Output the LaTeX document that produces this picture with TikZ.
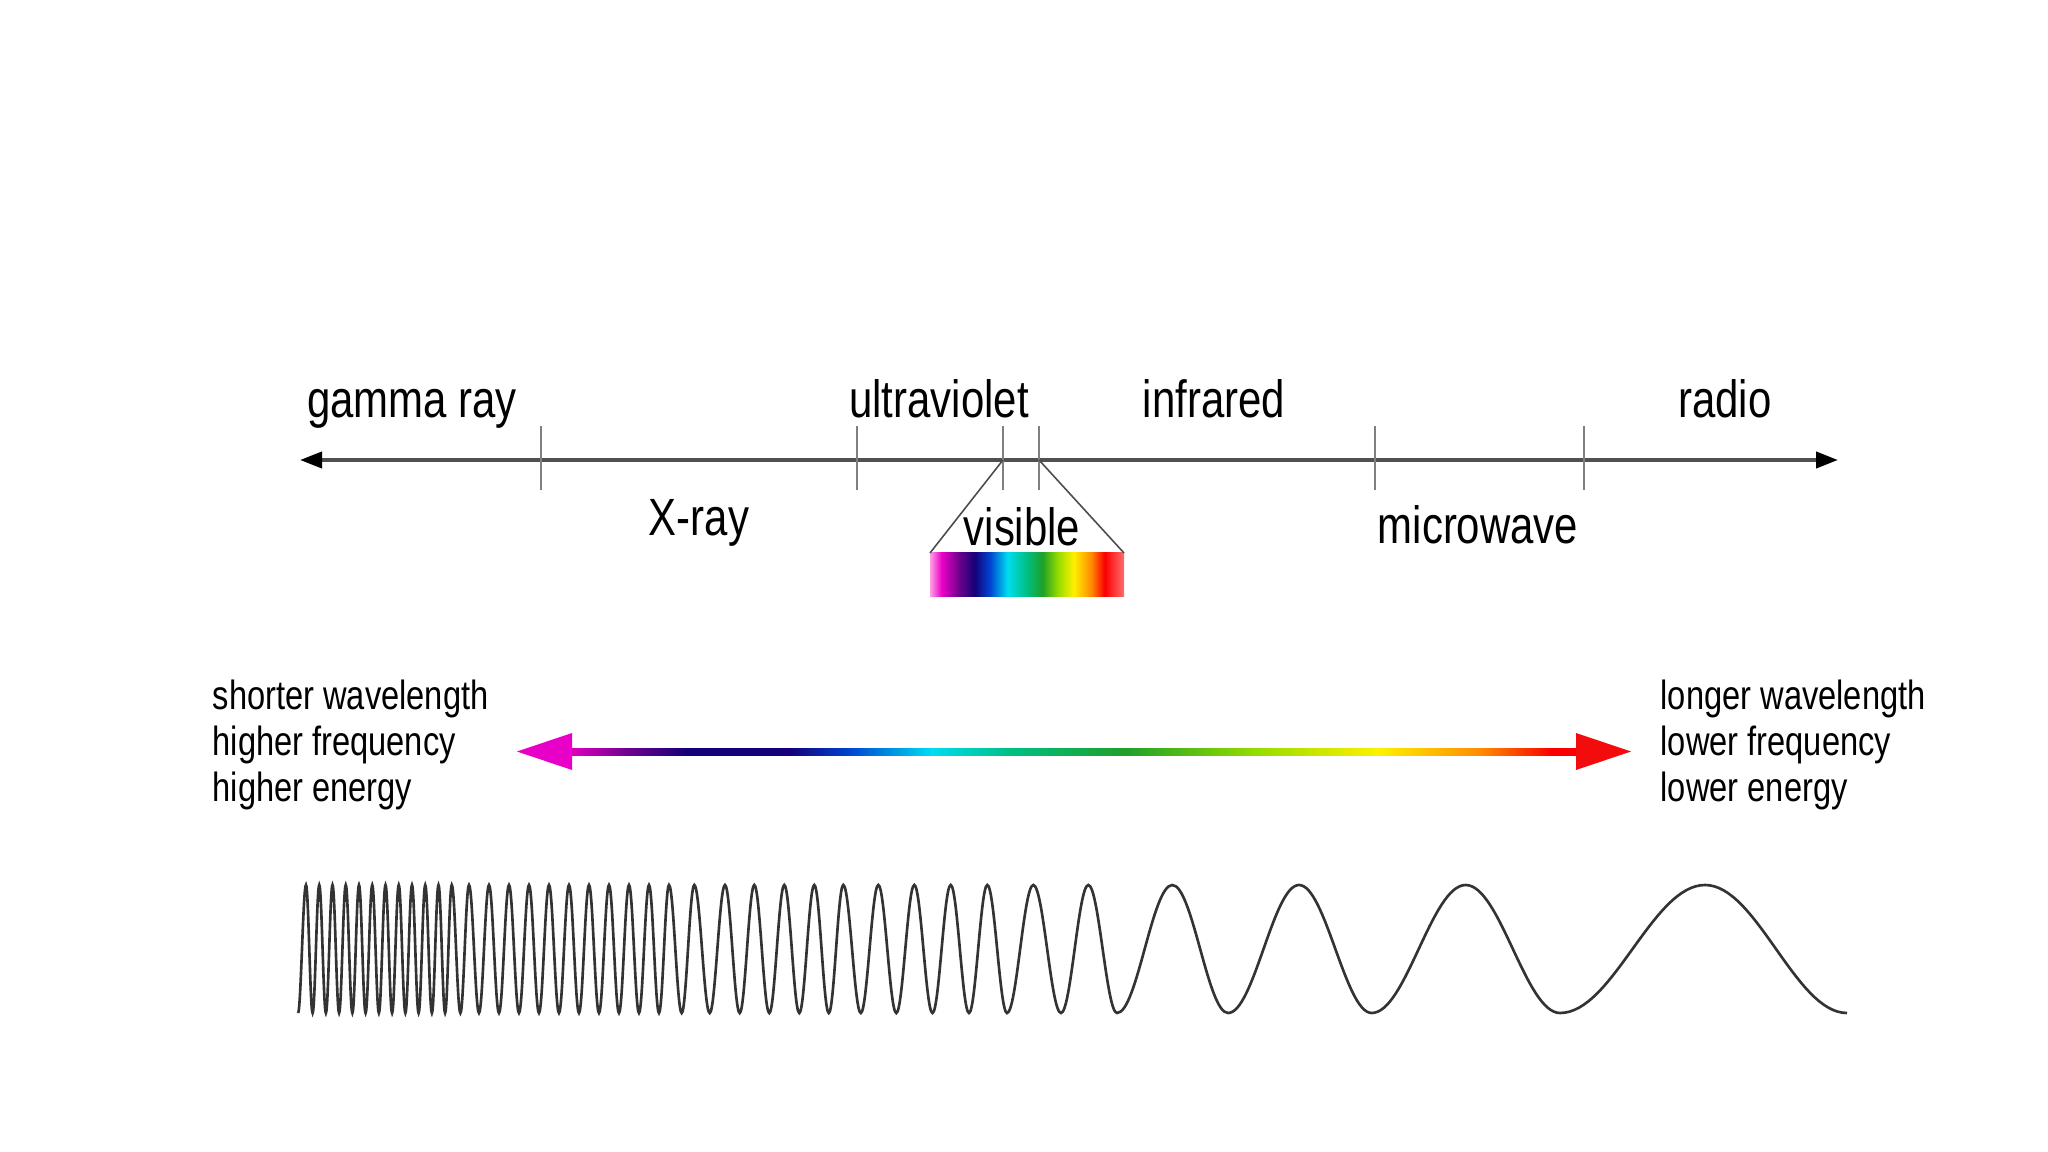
\documentclass[tikz,border=0pt]{standalone}
\usepackage{fontspec}
\setmainfont{Liberation Sans}[FakeStretch=0.8]
\usetikzlibrary{arrows.meta}

\definecolor{vpink}{RGB}{255,160,230}
\definecolor{vmag}{RGB}{235,0,200}
\definecolor{vpurp}{RGB}{110,0,140}
\definecolor{vnavy}{RGB}{20,0,120}
\definecolor{vblue}{RGB}{0,70,210}
\definecolor{vcyan}{RGB}{0,220,240}
\definecolor{vteal}{RGB}{0,190,130}
\definecolor{vgreen}{RGB}{30,160,40}
\definecolor{vlime}{RGB}{150,220,0}
\definecolor{vyell}{RGB}{255,240,0}
\definecolor{vorange}{RGB}{255,140,0}
\definecolor{vred}{RGB}{250,0,0}
\definecolor{vredge}{RGB}{255,110,110}
\definecolor{axisgray}{RGB}{80,80,80}
\definecolor{headmag}{RGB}{232,0,200}
\definecolor{headred}{RGB}{242,12,12}

% visible band, 25bp..75bp is the box
\pgfdeclarehorizontalshading{visspec}{100bp}{color(0bp)=(vpink); color(25bp)=(vpink);
 color(28bp)=(vmag); color(32.5bp)=(vpurp); color(36.5bp)=(vnavy); color(40.5bp)=(vblue);
 color(45bp)=(vcyan); color(50bp)=(vteal); color(54bp)=(vgreen); color(58bp)=(vlime);
 color(62bp)=(vyell); color(66.5bp)=(vorange); color(70bp)=(vred); color(75bp)=(vredge);
 color(100bp)=(vredge)}
% shaft of the lower arrow
\pgfdeclarehorizontalshading{shaftspec}{100bp}{color(0bp)=(vmag); color(25bp)=(vmag);
 color(28bp)=(vpurp); color(31bp)=(vnavy); color(36bp)=(vnavy); color(39bp)=(vblue);
 color(43bp)=(vcyan); color(47bp)=(vteal); color(52.5bp)=(vgreen); color(59bp)=(vlime);
 color(65bp)=(vyell); color(70bp)=(vorange); color(73.5bp)=(vred); color(75bp)=(vred);
 color(100bp)=(vred)}

\begin{document}
\begin{tikzpicture}[x=0.01cm,y=-0.01cm,
 band/.style={inner sep=0pt,anchor=base,font=\fontsize{14.9}{17}\selectfont},
 note/.style={inner sep=0pt,anchor=base west,font=\fontsize{11.6}{13}\selectfont},
 bandtick/.style={draw=gray,line width=0.45pt},
 fan/.style={draw=black!70,line width=0.45pt},
 wavepen/.style={draw=black!80,line width=0.75pt}]
\useasboundingbox (0,0) rectangle (2048,1152);

% spectrum axis
\coordinate (axL) at (300,460);
\coordinate (axR) at (1838,460);
\draw[axisgray,line width=1.1pt,{Triangle[length=2.2mm,width=1.6mm,black]}-{Triangle[length=2.2mm,width=1.6mm,black]}] (axL) -- (axR);
\coordinate (t1) at (541,460);
\coordinate (t2) at (857,460);
\coordinate (t3) at (1003,460);
\coordinate (t4) at (1039,460);
\coordinate (t5) at (1375,460);
\coordinate (t6) at (1584,460);
\draw[bandtick] (541,426) -- (541,490);
\draw[bandtick] (857,426) -- (857,490);
\draw[bandtick] (1003,426) -- (1003,490);
\draw[bandtick] (1039,426) -- (1039,490);
\draw[bandtick] (1375,426) -- (1375,490);
\draw[bandtick] (1584,426) -- (1584,490);

\node[band] (gamma) at (412,418) {gamma ray};
\node[band] (uv) at (939,418) {ultraviolet};
\node[band] (ir) at (1214,418) {infrared};
\node[band] (radio) at (1725,418) {radio};
\node[band] (xray) at (699,536) {X-ray};
\node[band] (vis) at (1022,545) {visible};
\node[band] (micro) at (1478,544) {microwave};

% visible strip
\coordinate (sL) at (930,553);
\coordinate (sR) at (1124,553);
\shade[shading=visspec] (930,553) rectangle (1124,597);
\draw[fan] (t3) -- (sL);
\draw[fan] (t4) -- (sR);

% colour arrow
\shade[shading=shaftspec] (566,748) rectangle (1582,755);
\fill[headmag] (517,751.5) -- (572,733) -- (572,770) -- cycle;
\fill[headred] (1631,751.5) -- (1576,733) -- (1576,770) -- cycle;

\node[note] (short) at (212,709) {shorter wavelength};
\node[note] (hfreq) at (212,755) {higher frequency};
\node[note] (hen) at (212,801) {higher energy};
\node[note] (long) at (1660,709) {longer wavelength};
\node[note] (lfreq) at (1660,755) {lower frequency};
\node[note] (len) at (1660,801) {lower energy};

% the wave, peak/next trough
\draw[wavepen] (298,1013) \foreach \p/\t [remember=\t as \last (initially 298)] in
 {306/312.6,319.25/325.9,332.5/339.1,345.75/352.4,359/365.6,372.25/378.9,385.5/392.1,
 398.75/405.4,412/418.6,425.25/431.9,438.5/445.1,451.75/460.4,
 469/479,489/499,509/519,529/539,549/559,569/579,589/599,609/619,629/639,649/659,669/681.7,
 694.3/709.7,725/739.7,754.3/769.3,784.3/799.3,814.3/828.8,843.3/860.8,
 878.3/896.3,914.3/932.5,950.7/969,987.3/1007,
 1033.3/1061,1088.3/1117,1172.3/1228,1299/1371.7,1465.7/1560,1705/1847}
 { cos ({(\last+\p)/2},949) sin (\p,885) cos ({(\p+\t)/2},949) sin (\t,1013) };
\end{tikzpicture}
\end{document}
